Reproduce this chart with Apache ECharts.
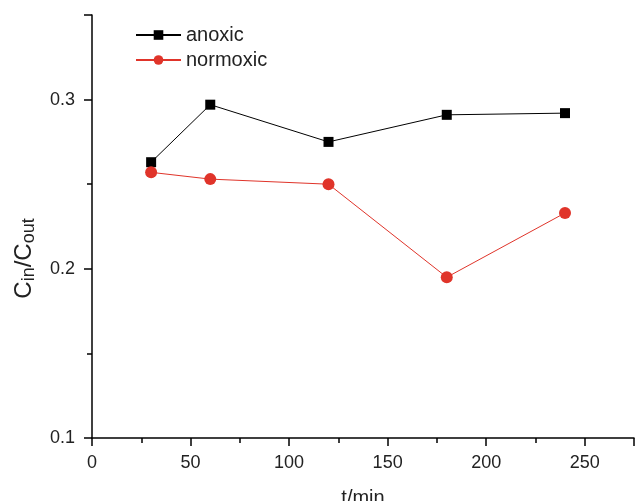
<!DOCTYPE html>
<html>
<head>
<meta charset="utf-8">
<script src="https://cdn.jsdelivr.net/npm/echarts@6/dist/echarts.min.js"></script>
<style>
html, body { margin: 0; padding: 0; background: #fff; }
#chart { width: 635px; height: 501px; }
</style>
</head>
<body>
<div id="chart"></div>
<script>
const times = [30, 60, 120, 180, 240];
const anoxic = [0.263, 0.297, 0.275, 0.291, 0.292];
const normoxic = [0.257, 0.253, 0.250, 0.195, 0.233];

const font = 'Liberation Sans, Arial, sans-serif';
const chart = echarts.init(document.getElementById('chart'));

let option = {
	animation: false,
	backgroundColor: '#fff',
	grid: {left: 92, top: 15, right: 1, bottom: 63, containLabel: false, outerBoundsMode: 'none'},
	legend: {
		orient: 'vertical',
		left: 130,
		top: 20,
		itemWidth: 45,
		itemHeight: 12,
		itemGap: 5,
		textStyle: {fontFamily: font, fontSize: 20, color: '#222'},
		data: ['anoxic', 'normoxic']
	},
	xAxis: {
		type: 'value',
		min: 0,
		max: 275,
		interval: 50,
		name: 't/min',
		nameLocation: 'middle',
		nameGap: 50,
		nameTextStyle: {fontFamily: font, fontSize: 20, color: '#222'},
		axisLine: {lineStyle: {color: '#000', width: 1.5}},
		axisTick: {inside: false, length: 8, lineStyle: {color: '#000', width: 1.5}},
		minorTick: {show: true, splitNumber: 2, length: 5, lineStyle: {color: '#000', width: 1.5}},
		axisLabel: {fontFamily: font, fontSize: 18, color: '#222', margin: 16, showMaxLabel: false},
		splitLine: {show: false}
	},
	yAxis: {
		type: 'value',
		min: 0.1,
		max: 0.35,
		interval: 0.1,
		name: '{b|C}{s|in}{b|/C}{s|out}',
		nameLocation: 'middle',
		nameGap: 54,
		nameTextStyle: {
			fontFamily: font, color: '#222',
			padding: [0, 64, 0, 0],
			rich: {
				b: {fontFamily: font, fontSize: 24, color: '#222'},
				s: {fontFamily: font, fontSize: 18, color: '#222', padding: [10, 0, 0, 0]}
			}
		},
		axisLine: {lineStyle: {color: '#000', width: 1.5}},
		axisTick: {inside: false, length: 8, lineStyle: {color: '#000', width: 1.5}},
		minorTick: {show: true, splitNumber: 2, length: 5, lineStyle: {color: '#000', width: 1.5}},
		axisLabel: {fontFamily: font, fontSize: 18, color: '#222', margin: 17, showMaxLabel: false},
		splitLine: {show: false}
	},
	series: [
		{
			name: 'anoxic',
			type: 'line',
			data: times.map((t, i) => [t, anoxic[i]]),
			symbol: 'rect',
			symbolSize: 10,
			color: '#000',
			lineStyle: {color: '#000', width: 1}
		},
		{
			name: 'normoxic',
			type: 'line',
			data: times.map((t, i) => [t, normoxic[i]]),
			symbol: 'circle',
			symbolSize: 12,
			color: '#e0342a',
			lineStyle: {color: '#e0342a', width: 1}
		}
	]
};
chart.setOption(option);
</script>
</body>
</html>
